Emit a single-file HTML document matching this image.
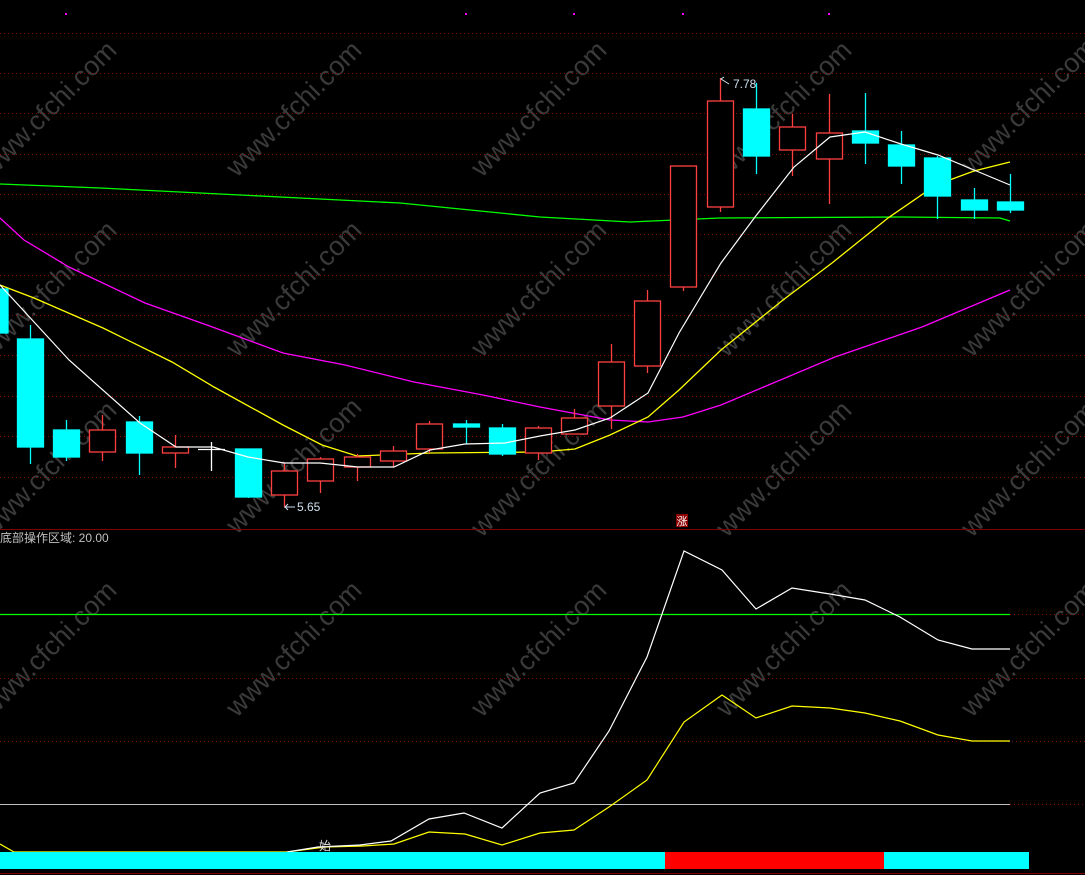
<!DOCTYPE html>
<html><head><meta charset="utf-8"><style>
html,body{margin:0;padding:0;background:#000;width:1085px;height:875px;overflow:hidden}
svg{display:block}
text{font-family:"Liberation Sans","Noto Sans CJK SC",sans-serif}
</style></head><body>
<svg width="1085" height="875" viewBox="0 0 1085 875" xmlns="http://www.w3.org/2000/svg">
<rect width="1085" height="875" fill="#000"/>
<!-- watermarks -->
<g fill="#3a3a3a" font-size="27" text-anchor="middle">
<text transform="translate(55,115) rotate(-45)">www.cfchi.com</text>
<text transform="translate(300,115) rotate(-45)">www.cfchi.com</text>
<text transform="translate(545,115) rotate(-45)">www.cfchi.com</text>
<text transform="translate(790,115) rotate(-45)">www.cfchi.com</text>
<text transform="translate(1035,112) rotate(-45)">www.cfchi.com</text>
<text transform="translate(55,295) rotate(-45)">www.cfchi.com</text>
<text transform="translate(300,295) rotate(-45)">www.cfchi.com</text>
<text transform="translate(545,295) rotate(-45)">www.cfchi.com</text>
<text transform="translate(790,295) rotate(-45)">www.cfchi.com</text>
<text transform="translate(1035,295) rotate(-45)">www.cfchi.com</text>
<text transform="translate(55,475) rotate(-45)">www.cfchi.com</text>
<text transform="translate(300,472) rotate(-45)">www.cfchi.com</text>
<text transform="translate(545,475) rotate(-45)">www.cfchi.com</text>
<text transform="translate(790,475) rotate(-45)">www.cfchi.com</text>
<text transform="translate(1035,475) rotate(-45)">www.cfchi.com</text>
<text transform="translate(55,655) rotate(-45)">www.cfchi.com</text>
<text transform="translate(300,655) rotate(-45)">www.cfchi.com</text>
<text transform="translate(545,655) rotate(-45)">www.cfchi.com</text>
<text transform="translate(790,655) rotate(-45)">www.cfchi.com</text>
<text transform="translate(1035,655) rotate(-45)">www.cfchi.com</text>
</g>
<!-- grid -->
<g stroke="#8b0000" stroke-width="1" stroke-dasharray="1,3">
<line x1="0" x2="1085" y1="33.5" y2="33.5"/><line x1="0" x2="1085" y1="73.5" y2="73.5"/>
<line x1="0" x2="1085" y1="113.5" y2="113.5"/><line x1="0" x2="1085" y1="154.5" y2="154.5"/>
<line x1="0" x2="1085" y1="194.5" y2="194.5"/><line x1="0" x2="1085" y1="234.5" y2="234.5"/>
<line x1="0" x2="1085" y1="275.5" y2="275.5"/><line x1="0" x2="1085" y1="315.5" y2="315.5"/>
<line x1="0" x2="1085" y1="355.5" y2="355.5"/><line x1="0" x2="1085" y1="396.5" y2="396.5"/>
<line x1="0" x2="1085" y1="436.5" y2="436.5"/><line x1="0" x2="1085" y1="477.5" y2="477.5"/>
<line x1="1010" x2="1085" y1="614.5" y2="614.5"/>
<line x1="0" x2="1085" y1="678.5" y2="678.5"/><line x1="0" x2="1085" y1="741.5" y2="741.5"/>
<line x1="1010" x2="1085" y1="804.5" y2="804.5"/>
</g>
<line x1="0" x2="1085" y1="529.5" y2="529.5" stroke="#800000"/>
<line x1="0" x2="1085" y1="873.5" y2="873.5" stroke="#800000"/>
<!-- magenta dots -->
<g fill="#ff00ff"><rect x="65" y="13" width="2" height="2"/><rect x="465" y="13" width="2" height="2"/><rect x="573" y="13" width="2" height="2"/><rect x="682" y="13" width="2" height="2"/><rect x="828" y="13" width="2" height="2"/></g>
<!-- MAs -->
<polyline fill="none" stroke="#00ff00" stroke-width="1.3" points="0,184 100,188 200,193 300,198 400,203 540,217 630,222 720,218 900,217 1000,218 1010,221"/>
<polyline fill="none" stroke="#ff00ff" stroke-width="1.3" points="0,218 24,240 69,267 145,303 207,325 283,353 345,365 414,382 483,395 540,407 610,420 648,422 683,417 721,405 835,357 922,327 1010,290"/>
<polyline fill="none" stroke="#ffff00" stroke-width="1.3" points="0,285 34,298 103,328 172,362 214,387 283,425 322,445 357,456 431,453 540,452 575,449 610,435 648,417 679,390 721,350 783,300 832,263 888,218 936,185 974,171 1010,162"/>
<!-- candles -->
<g stroke-width="1.3">
<g stroke="#00ffff" fill="#00ffff">
<rect x="0" y="289" width="8" height="44"/>
<line x1="30.5" x2="30.5" y1="325" y2="464"/><rect x="17.5" y="339" width="26" height="108"/>
<line x1="66.5" x2="66.5" y1="420" y2="461"/><rect x="53.5" y="430" width="26" height="27"/>
<line x1="139.5" x2="139.5" y1="416" y2="475"/><rect x="126.5" y="422" width="26" height="31"/>
<line x1="248.5" x2="248.5" y1="449" y2="498"/><rect x="235.5" y="449" width="26" height="48"/>
<line x1="466.5" x2="466.5" y1="420" y2="444"/><rect x="453.5" y="424" width="26" height="3"/>
<line x1="502.5" x2="502.5" y1="424" y2="456"/><rect x="489.5" y="428" width="26" height="26"/>
<line x1="756.5" x2="756.5" y1="83" y2="174"/><rect x="743.5" y="109" width="26" height="47"/>
<line x1="865.5" x2="865.5" y1="93" y2="164"/><rect x="852.5" y="131" width="26" height="12"/>
<line x1="901.5" x2="901.5" y1="131" y2="184"/><rect x="888.5" y="145" width="26" height="21"/>
<line x1="937.5" x2="937.5" y1="156" y2="219"/><rect x="924.5" y="158" width="26" height="38"/>
<line x1="974.5" x2="974.5" y1="188" y2="219"/><rect x="961.5" y="200" width="26" height="10"/>
<line x1="1010.5" x2="1010.5" y1="174" y2="213"/><rect x="997.5" y="202" width="26" height="8"/>
</g>
<g stroke="#ff4040" fill="#000">
<line x1="102.5" x2="102.5" y1="415" y2="461"/><rect x="89.5" y="430" width="26" height="22"/>
<line x1="175.5" x2="175.5" y1="435" y2="468"/><rect x="162.5" y="447" width="26" height="6"/>
<line x1="284.5" x2="284.5" y1="463" y2="507"/><rect x="271.5" y="471" width="26" height="24"/>
<line x1="320.5" x2="320.5" y1="457" y2="493"/><rect x="307.5" y="459" width="26" height="22"/>
<line x1="357.5" x2="357.5" y1="454" y2="481"/><rect x="344.5" y="457" width="26" height="10"/>
<line x1="393.5" x2="393.5" y1="446" y2="467"/><rect x="380.5" y="451" width="26" height="10"/>
<line x1="429.5" x2="429.5" y1="421" y2="453"/><rect x="416.5" y="424" width="26" height="25"/>
<line x1="538.5" x2="538.5" y1="426" y2="460"/><rect x="525.5" y="428" width="26" height="25"/>
<line x1="574.5" x2="574.5" y1="409" y2="434"/><rect x="561.5" y="418" width="26" height="16"/>
<line x1="611.5" x2="611.5" y1="344" y2="429"/><rect x="598.5" y="362" width="26" height="44"/>
<line x1="647.5" x2="647.5" y1="290" y2="373"/><rect x="634.5" y="301" width="26" height="65"/>
<line x1="683.5" x2="683.5" y1="166" y2="291"/><rect x="670.5" y="166" width="26" height="121"/>
<line x1="720.5" x2="720.5" y1="78" y2="212"/><rect x="707.5" y="101" width="26" height="106"/>
<line x1="792.5" x2="792.5" y1="114" y2="176"/><rect x="779.5" y="127" width="26" height="23"/>
<line x1="829.5" x2="829.5" y1="94" y2="204"/><rect x="816.5" y="133" width="26" height="26"/>
</g>
<g stroke="#ffffff"><line x1="211.5" x2="211.5" y1="442" y2="471"/><line x1="198" x2="225" y1="449.5" y2="449.5"/></g>
</g>
<polyline fill="none" stroke="#ffffff" stroke-width="1.2" points="0,285 69,360 140,423 176,447 213,447 248,457 284,463 320,463 358,467 394,467 430,450 465,444 505,443 540,436 575,430 610,418 648,393 679,333 721,263 755,217 794,167 830,137 865,132 901,144 938,155 974,170 1010,185"/>
<!-- annotations -->
<text x="733" y="88" font-size="12" fill="#d0e0f0">7.78</text>
<polyline points="729,84 721,79 724,77" fill="none" stroke="#d0e0f0"/>
<text x="297" y="511" font-size="12" fill="#d0e0f0">5.65</text>
<polyline points="295,507 285,507 288,504 285,507 288,510" fill="none" stroke="#d0e0f0"/>
<rect x="676" y="514" width="12" height="13" fill="#8b0000"/>
<text x="682" y="525" font-size="11" fill="#fff" text-anchor="middle">涨</text>
<text x="0" y="542" font-size="12" fill="#c0c0c0">底部操作区域: 20.00</text>
<!-- lower panel -->
<line x1="0" x2="1010" y1="614.5" y2="614.5" stroke="#00ff00" stroke-width="1.3"/>
<line x1="0" x2="1010" y1="804.5" y2="804.5" stroke="#c0c0c0"/>
<polyline fill="none" stroke="#ffff00" stroke-width="1.2" points="0,844 14,852 287,852 325,847 363,846 394,844 429,832 465,834 502,845 540,833 574,830 609,807 647,780 684,722 722,695 756,718 792,706 830,708 865,713 900,721 938,735 972,741 1010,741"/>
<polyline fill="none" stroke="#ffffff" stroke-width="1.2" points="287,852 318,847 360,845 391,841 429,819 464,813 502,828 540,793 574,783 609,731 647,657 684,551 722,570 756,609 792,588 830,594 865,600 900,617 938,640 972,649 1010,649"/>
<text x="319" y="850" font-size="12" fill="#e0e0e0">始</text>
<rect x="0" y="852" width="665" height="17" fill="#00ffff"/>
<rect x="665" y="852" width="219" height="17" fill="#ff0000"/>
<rect x="884" y="852" width="145" height="17" fill="#00ffff"/>
</svg>
</body></html>
